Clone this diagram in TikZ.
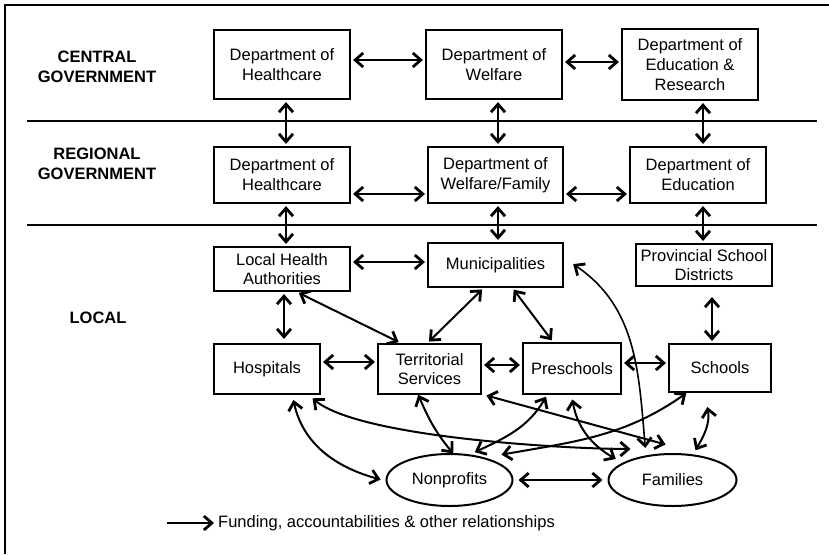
\documentclass[tikz,border=0pt]{standalone}
\usepackage{fontspec}
\setmainfont{Liberation Sans}
\usetikzlibrary{shapes.geometric,arrows.meta}

\begin{document}
\begin{tikzpicture}[x=1pt, y=1pt,
    font=\fontsize{16.5}{19.8}\selectfont,
    box/.style={draw, line width=2.1pt, align=center, inner sep=1pt},
    oval/.style={draw, ellipse, line width=2pt, minimum width=126pt, minimum height=52pt},
    level/.style={font=\fontsize{16.5}{19.8}\selectfont\bfseries, align=center},
    link/.style={line width=2pt, {Straight Barb[length=8pt,width=14pt,line width=2.8pt]}-{Straight Barb[length=8pt,width=14pt,line width=2.8pt]}, shorten <=2pt, shorten >=2pt},
    ]
    \useasboundingbox (0,0) rectangle (829,-554);

    % Frame and level separators
    \draw[line width=2.2pt] (5,-554) -- (5,-5) -- (829,-5);
    \draw[line width=2pt] (27,-120.5) -- (817,-120.5);
    \draw[line width=2pt] (27,-225) -- (817,-225);

    % Level labels
    \node[level] (central) at (97,-67) {CENTRAL\\GOVERNMENT};
    \node[level] (regional) at (97,-164) {REGIONAL\\GOVERNMENT};
    \node[level] (local) at (98,-318) {LOCAL};

    % Central government
    \node[box, minimum width=136pt, minimum height=69pt] (ch) at (282,-64.5) {Department of\\Healthcare};
    \node[box, minimum width=136pt, minimum height=69pt] (cw) at (494,-64.5) {Department of\\Welfare};
    \node[box, minimum width=136pt, minimum height=71pt] (ce) at (690,-64.5) {Department of\\Education \&\\Research};

    % Regional government
    \node[box, minimum width=136pt, minimum height=56pt] (rh) at (282,-175) {Department of\\Healthcare};
    \node[box, minimum width=135pt, minimum height=56pt] (rw) at (495.5,-175) {Department of\\Welfare/Family};
    \node[box, minimum width=136pt, minimum height=56pt] (re) at (698,-175) {Department of\\Education};

    % Local
    \node[box, minimum width=136pt, minimum height=44pt] (lha) at (282,-269) {Local Health\\Authorities};
    \node[box, minimum width=135pt, minimum height=44pt] (mun) at (495.5,-265) {Municipalities};
    \node[box, minimum width=136pt, minimum height=42pt] (psd) at (704,-265) {Provincial School\\Districts};
    \node[box, minimum width=106pt, minimum height=50pt] (hosp) at (267,-369) {Hospitals};
    \node[box, minimum width=103pt, minimum height=50pt] (terr) at (429.5,-369) {Territorial\\Services};
    \node[box, minimum width=98pt, minimum height=51pt] (pre) at (572,-368.5) {Preschools};
    \node[box, minimum width=102pt, minimum height=48pt] (sch) at (720,-368) {Schools};
    \node[oval] (nonp) at (449.5,-480) {Nonprofits};
    \node[oval, minimum width=128pt] (fam) at (672.5,-480) {Families};

    % Horizontal links
    \draw[link] ([yshift=4.5pt]ch.east) -- ([yshift=4.5pt]ch.east -| cw.west);
    \draw[link] ([yshift=2.5pt]cw.east) -- ([yshift=2.5pt]cw.east -| ce.west);
    \draw[link] ([yshift=-19pt]rh.east) -- ([yshift=-19pt]rh.east -| rw.west);
    \draw[link] ([yshift=-19pt]rw.east) -- ([yshift=-19pt]rw.east -| re.west);
    \draw[link] ([yshift=7pt]lha.east) -- ([yshift=7pt]lha.east -| mun.west);
    \draw[link] ([yshift=7pt]hosp.east) -- ([yshift=7pt]hosp.east -| terr.west);
    \draw[link] ([yshift=4pt]terr.east) -- ([yshift=4pt]terr.east -| pre.west);
    \draw[link, line width=1.6pt] ([yshift=5.5pt]pre.east) -- ([yshift=5.5pt]pre.east -| sch.west);
    \draw[link, shorten <=5pt, shorten >=5pt] (nonp.east) -- (fam.west);

    % Vertical links
    \draw[link] ([xshift=4pt]ch.south) -- ([xshift=4pt]ch.south |- rh.north);
    \draw[link] ([xshift=4pt]rh.south) -- ([xshift=4pt]rh.south |- lha.north);
    \draw[link] ([xshift=4pt]cw.south) -- ([xshift=4pt]cw.south |- rw.north);
    \draw[link] ([xshift=2.5pt]rw.south) -- ([xshift=2.5pt]rw.south |- mun.north);
    \draw[link] ([xshift=13pt]ce.south) -- ([xshift=13pt]ce.south |- re.north);
    \draw[link] ([xshift=5pt]re.south) -- ([xshift=5pt]re.south |- psd.north);
    \draw[link, shorten >=4pt] ([xshift=2pt]lha.south) -- ([xshift=2pt]lha.south |- hosp.north);
    \draw[link, shorten <=10pt] ([xshift=8pt]psd.south) -- ([xshift=8pt]psd.south |- sch.north);

    % Diagonal links
    \draw[link] ([xshift=15pt]lha.south) -- ([xshift=-29pt]terr.north);
    \draw[link] ([xshift=-12pt]mun.south) -- ([xshift=-2pt]terr.north);
    \draw[link] ([xshift=17pt]mun.south) -- ([xshift=-19pt]pre.north);
    \draw[link] ([shift={(55,-26)}]terr.center) -- ([shift={(-5,35)}]fam.center);

    % Curved links
    \draw[link] ([shift={(26,-29)}]hosp.center) to[out=-78, in=165] ([xshift=-3pt]nonp.west);
    \draw[link] ([shift={(44,-28)}]hosp.center) to[out=-40, in=180, looseness=0.5] ([shift={(-40,31)}]fam.center);
    \draw[link] ([shift={(-12,-24)}]terr.center) to[out=-67, in=130] ([shift={(5,25)}]nonp.center);
    \draw[link] ([shift={(-25,-26.5)}]pre.center) to[out=-120, in=25] ([shift={(23.5,27)}]nonp.center);
    \draw[link] ([shift={(-32,-24)}]sch.center) to[out=-145, in=10] ([shift={(50,25)}]nonp.center);
    \draw[link] ([shift={(0,-29)}]pre.center) to[out=-80, in=150] ([shift={(-55,20)}]fam.center);
    \draw[link] ([shift={(-13,-37)}]sch.center) to[out=-80, in=60] ([shift={(22,28)}]fam.center);
    \draw[link, line width=1.6pt] ([shift={(76,2)}]mun.center) to[out=-34, in=95] ([shift={(-27,30)}]fam.center);

    % Legend
    \node[anchor=west, inner sep=0pt] (legend) at (218,-523) {Funding, accountabilities \& other relationships};
    \coordinate (legtail) at (167,-523);
    \draw[line width=2pt, -{Straight Barb[length=8pt,width=14pt,line width=2.8pt]}, shorten >=4pt] (legtail) -- (legend.west);
\end{tikzpicture}
\end{document}
